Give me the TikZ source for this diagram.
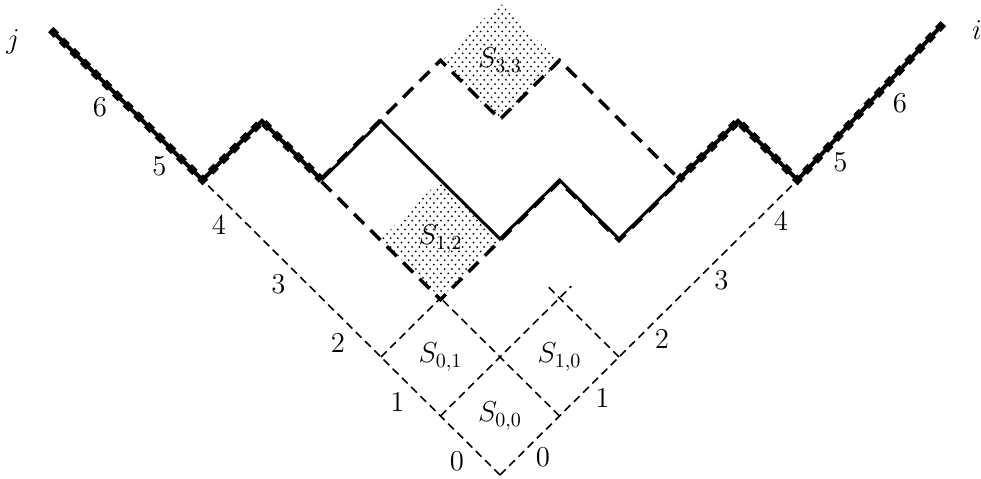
\documentclass[tikz,border=0pt]{standalone}
\usetikzlibrary{patterns}
\pgfdeclarepatternformonly{sdots}{\pgfpoint{-1pt}{-1pt}}{\pgfpoint{4.6pt}{5.4pt}}{\pgfpoint{3.6pt}{4.4pt}}{%
  \pgfpathcircle{\pgfpoint{0.9pt}{1.1pt}}{0.5pt}%
  \pgfpathcircle{\pgfpoint{2.7pt}{3.3pt}}{0.5pt}%
  \pgfusepath{fill}}
\tikzset{
  thindash/.style={line width=0.8pt, dash pattern=on 4pt off 2.5pt},
  meddash/.style={line width=1.75pt, dash pattern=on 7pt off 4.5pt},
  solidpath/.style={line width=1.5pt},
  heavycore/.style={line width=2pt},
  heavydash/.style={line width=3.8pt, dash pattern=on 4pt off 3.5pt},
  dotfill/.style={pattern=sdots},
  jlab/.style={xshift=-21.5pt,yshift=7pt},
  ilab/.style={xshift=21.5pt,yshift=9pt},
}
\begin{document}
\begin{tikzpicture}[font=\fontsize{14.4}{17}\selectfont]
\useasboundingbox (0,0) rectangle (490.5pt,239pt);
\begin{scope}[shift={(250pt,1.5pt)}, x={(29.75pt,29.5pt)}, y={(-29.75pt,29.5pt)}]
  % dotted squares
  \fill[dotfill] (1,2) -- (2,2) -- (2,3) -- (1,3) -- cycle;
  \fill[dotfill] (3,3) -- (4,3) -- (4,4) -- (3,4) -- cycle;
  % thin dashed axes and grid
  \draw[thindash] (0,0) -- (0,5);
  \draw[thindash] (0,0) -- (5,0);
  \draw[thindash] (0,1) -- (2.2,1);
  \draw[thindash] (2,0) -- (2,1.2);
  \draw[thindash] (1,0) -- (1,2);
  \draw[thindash] (0,2) -- (1,2);
  % boundary paths
  \draw[meddash, yshift=-0.8pt] (1,4) -- (1,2) -- (2,2) -- (3,2) -- (3,1) -- (4,1);
  \draw[meddash, yshift=0.8pt] (1,4) -- (2,4) -- (3,4) -- (3,3) -- (4,3) -- (4,1);
  \draw[solidpath] (1,4) -- (2,4) -- (2,2) -- (3,2) -- (3,1) -- (4,1);
  \draw[heavycore] (0,7.55) -- (0,5) -- (1,5) -- (1,4);
  \draw[heavydash] (0,7.55) -- (0,5) -- (1,5) -- (1,4);
  \draw[heavycore] (4,1) -- (5,1) -- (5,0) -- (7.55,0.1);
  \draw[heavydash] (7.55,0.1) -- (5,0) -- (5,1) -- (4,1);
  % square labels
  \node (s00) at (0.5,0.5) {$S_{0,0}$};
  \node (s01) at (0.5,1.5) {$S_{0,1}$};
  \node (s10) at (1.5,0.5) {$S_{1,0}$};
  \node (s12) at (1.5,2.5) {$S_{1,2}$};
  \node (s33) at (3.5,3.5) {$S_{3,3}$};
  % axis numbers
  \foreach \k in {0,...,6} {
    \node[jlab] (jn\k) at (0,\k) {\k};
    \node[ilab] (in\k) at (\k,0) {\k};
  }
\end{scope}
\node (jlabel) at (6.5pt,218pt) {$j$};
\node (ilabel) at (488.5pt,224pt) {$i$};
\end{tikzpicture}
\end{document}
